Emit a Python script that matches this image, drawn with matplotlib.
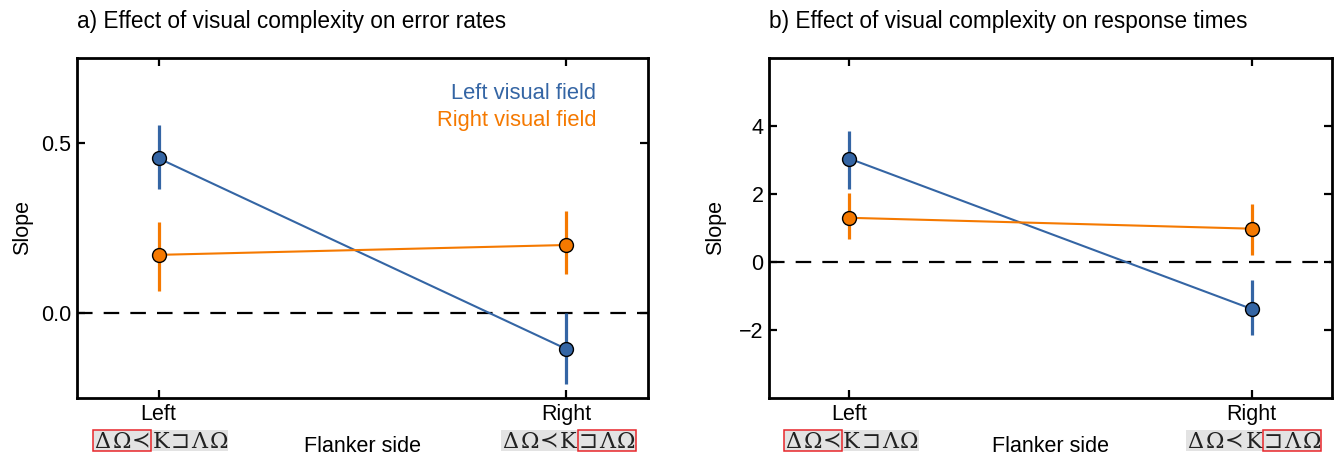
import matplotlib
matplotlib.use("Agg")
import matplotlib.pyplot as plt
from matplotlib.patches import Rectangle
from matplotlib.transforms import IdentityTransform

plt.rcParams['font.family'] = ['Liberation Sans', 'DejaVu Sans']

# ---------------- data ----------------
flanker_sides = ["Left", "Right"]
series_names = ["Left visual field", "Right visual field"]
series_colors = ["#3465a4", "#f57900"]

# panel a: error rates
err_lvf = [0.455, -0.106]
err_lvf_lo = [0.365, -0.21]
err_lvf_hi = [0.553, 0.0]
err_rvf = [0.171, 0.200]
err_rvf_lo = [0.065, 0.115]
err_rvf_hi = [0.268, 0.300]

# panel b: response times
rt_lvf = [3.04, -1.38]
rt_lvf_lo = [2.16, -2.16]
rt_lvf_hi = [3.85, -0.53]
rt_rvf = [1.30, 0.98]
rt_rvf_lo = [0.68, 0.21]
rt_rvf_hi = [2.04, 1.72]

titles = ["a) Effect of visual complexity on error rates",
          "b) Effect of visual complexity on response times"]
glyphs = ["Δ", "Ω", "≺", "K", "⊐", "Λ", "Ω"]

FS = 15.5

W, H = 1335, 457
fig = plt.figure(figsize=(W / 100, H / 100), dpi=100)

def px_axes(left, top, right, bottom):
    return fig.add_axes([left / W, 1 - bottom / H, (right - left) / W, (bottom - top) / H])

ax_a = px_axes(77, 58, 648, 398)
ax_b = px_axes(769, 58, 1332, 398)

panels = [
    (ax_a, [(err_lvf, err_lvf_lo, err_lvf_hi), (err_rvf, err_rvf_lo, err_rvf_hi)],
     (-0.25, 0.75), [0.0, 0.5], ["0.0", "0.5"]),
    (ax_b, [(rt_lvf, rt_lvf_lo, rt_lvf_hi), (rt_rvf, rt_rvf_lo, rt_rvf_hi)],
     (-4, 6), [-2, 0, 2, 4], ["\u22122", "0", "2", "4"]),
]

xpos = list(range(len(flanker_sides)))

for k, (ax, series, ylim, yt, ytl) in enumerate(panels):
    ax.axhline(0, color="black", lw=1.6, dashes=(7, 5), zorder=1)
    for (vals, lo, hi), col in zip(series, series_colors):
        yerr = [[v - l for v, l in zip(vals, lo)], [h - v for v, h in zip(vals, hi)]]
        ax.errorbar(xpos, vals, yerr=yerr, fmt="-o", color=col, lw=1.5,
                    elinewidth=2.3, capsize=0, ms=10, mfc=col, mec="black",
                    mew=1.0, zorder=3)
    ax.set_xlim(-0.2, 1.2)
    ax.set_ylim(*ylim)
    ax.set_yticks(yt)
    ax.set_yticklabels(ytl)
    ax.set_xticks(xpos)
    ax.set_xticklabels(flanker_sides)
    ax.tick_params(direction="in", length=6, width=1.6, labelsize=FS,
                   top=True, right=True, pad=4)
    for sp in ax.spines.values():
        sp.set_linewidth(2.0)
    ax.set_ylabel("Slope", fontsize=FS)
    ax.set_xlabel("Flanker side", fontsize=FS, va="top")
    ax.xaxis.set_label_coords(0.5, -0.112)
    ax.yaxis.set_label_coords(-0.077, 0.5)
    ax.text(0, 1.088, titles[k], transform=ax.transAxes, ha="left",
            va="baseline", fontsize=16.3)

# legend text (panel a)
for name, col, yy in zip(series_names, series_colors, [0.897, 0.815]):
    ax_a.text(0.909, yy, name, color=col, transform=ax_a.transAxes,
              ha="right", va="center", fontsize=15.8)

# glyph strips under the x tick labels
fig.canvas.draw()
gw = 19.3
strip_h = 21
strip_bottom = H - 451
for ax in (ax_a, ax_b):
    for i, x in enumerate(xpos):
        cx = ax.transData.transform((x, 0))[0] + 2
        left = cx - gw * len(glyphs) / 2
        fig.patches.append(Rectangle((left, strip_bottom), gw * len(glyphs), strip_h,
                                     transform=IdentityTransform(), facecolor="#e3e3e3",
                                     edgecolor="none", zorder=0))
        for j, g in enumerate(glyphs):
            fig.text(left + (j + 0.5) * gw, strip_bottom + strip_h / 2 - 1, g,
                     transform=IdentityTransform(), ha="center", va="center",
                     fontsize=16, family=["DejaVu Serif", "DejaVu Sans", "Noto Sans"],
                     color="#222222")
        start = 0 if i == 0 else len(glyphs) - 3
        fig.patches.append(Rectangle((left + start * gw, strip_bottom), 3 * gw, strip_h,
                                     transform=IdentityTransform(), facecolor="none",
                                     edgecolor="#e8262b", lw=1.1, zorder=5))

fig.savefig("out.png", dpi=100)
